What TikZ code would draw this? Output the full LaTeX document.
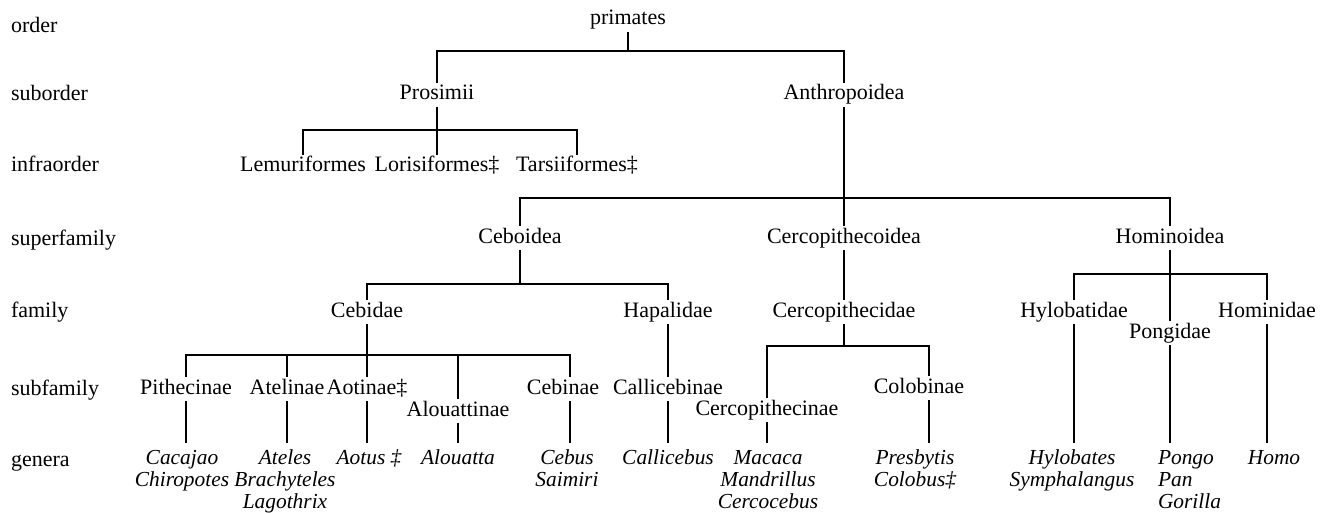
\documentclass[tikz,border=0pt]{standalone}
\usepackage{fontspec}
\setmainfont{Liberation Serif}
\newcommand\tbrk[3]{\draw[ln] (#1.south) |- (#3.north |- #2) -- (#3.north);}
\newcommand\tvln[2]{\draw[ln] (#1.south) -- (#1.south |- #2.north);}
\tikzset{
  lab/.style={font=\fontsize{11}{10.8}\selectfont, inner sep=0pt, outer sep=1pt, text height=7.5pt, text depth=2.5pt, anchor=base},
  rowlab/.style={lab, anchor=base west, outer sep=0pt},
  gen/.style={font=\fontsize{10.7}{11}\selectfont\itshape, inner sep=0pt, outer sep=3.5pt, align=center, anchor=north},
  ln/.style={line width=1.2pt}
}
\begin{document}
\begin{tikzpicture}[x=0.5pt,y=-0.5pt]
\useasboundingbox (0,0) rectangle (1326,513);
% row labels
\node[rowlab] (rOrder) at (11,33) {order};
\node[rowlab] (rSub) at (11,101) {suborder};
\node[rowlab] (rInfra) at (11,172) {infraorder};
\node[rowlab] (rSuper) at (11,245) {superfamily};
\node[rowlab] (rFam) at (11,317) {family};
\node[rowlab] (rSubf) at (11,395) {subfamily};
\node[rowlab] (rGen) at (11,466) {genera};
% bracket levels
\coordinate (b0) at (0,51);
\coordinate (b1) at (0,130);
\coordinate (b2) at (0,198);
\coordinate (b3) at (0,284);
\coordinate (b4) at (0,274);
\coordinate (b5) at (0,355);
\coordinate (b6) at (0,346);
\coordinate (cebx) at (570,355);
\coordinate (colx) at (929,346);
% taxa
\node[lab] (primates) at (628,25) {primates};
\node[lab] (prosimii) at (437,100) {Prosimii};
\node[lab] (anthro) at (844,100) {Anthropoidea};
\node[lab] (lemur) at (303,172) {Lemuriformes};
\node[lab] (loris) at (437,172) {Lorisiformes‡};
\node[lab] (tarsi) at (577,172) {Tarsiiformes‡};
\node[lab] (ceboid) at (520,243) {Ceboidea};
\node[lab] (cercoid) at (844,243) {Cercopithecoidea};
\node[lab] (homoid) at (1170,243) {Hominoidea};
\node[lab] (cebid) at (367,317) {Cebidae};
\node[lab] (hapal) at (668,317) {Hapalidae};
\node[lab] (cercid) at (844,317) {Cercopithecidae};
\node[lab] (hylob) at (1074,317) {Hylobatidae};
\node[lab] (homin) at (1267,317) {Hominidae};
\node[lab] (pongid) at (1170,338) {Pongidae};
\node[lab] (pithe) at (186,394) {Pithecinae};
\node[lab] (atel) at (287,394) {Atelinae};
\node[lab] (aot) at (367,394) {Aotinae‡};
\node[lab] (alou) at (458,416) {Alouattinae};
\node[lab] (cebin) at (563,394) {Cebinae};
\node[lab] (callic) at (668,394) {Callicebinae};
\node[lab] (cercin) at (767,415) {Cercopithecinae};
\node[lab] (colob) at (919,393) {Colobinae};
% genera
\node[gen] (cacajao) at (182,443) {Cacajao\\Chiropotes};
\node[gen] (ateles) at (285,443) {Ateles\\Brachyteles\\Lagothrix};
\node[gen] (aotus) at (369,443) {Aotus ‡};
\node[gen] (alouatta) at (458,443) {Alouatta};
\node[gen] (cebus) at (567,443) {Cebus\\Saimiri};
\node[gen] (callicebus) at (668,443) {Callicebus};
\node[gen] (macaca) at (768,443) {Macaca\\Mandrillus\\Cercocebus};
\node[gen] (presb) at (915,443) {Presbytis\\Colobus‡};
\node[gen] (hylobates) at (1072,443) {Hylobates\\Symphalangus};
\node[gen, anchor=north west, align=left] (pongo) at (1151,443) {Pongo\\Pan\\Gorilla};
\node[gen] (homo) at (1274,443) {Homo};
% connectors
\tbrk{primates}{b0}{prosimii}
\tbrk{primates}{b0}{anthro}
\tbrk{prosimii}{b1}{lemur}
\tvln{prosimii}{loris}
\tbrk{prosimii}{b1}{tarsi}
\tbrk{anthro}{b2}{ceboid}
\tvln{anthro}{cercoid}
\tbrk{anthro}{b2}{homoid}
\tbrk{ceboid}{b3}{cebid}
\tbrk{ceboid}{b3}{hapal}
\tvln{cercoid}{cercid}
\tbrk{homoid}{b4}{hylob}
\tvln{homoid}{pongid}
\tbrk{homoid}{b4}{homin}
\tbrk{cebid}{b5}{pithe}
\tbrk{cebid}{b5}{atel}
\tvln{cebid}{aot}
\tbrk{cebid}{b5}{alou}
\draw[ln] (cebid.south) |- (cebx) -- (cebx |- cebin.north);
\tvln{hapal}{callic}
\tbrk{cercid}{b6}{cercin}
\draw[ln] (cercid.south) |- (colx) -- (colx |- colob.north);
\tvln{pithe}{cacajao}
\tvln{atel}{ateles}
\tvln{aot}{aotus}
\tvln{alou}{alouatta}
\draw[ln] (cebx |- cebin.south) -- (cebx |- cebus.north);
\tvln{callic}{callicebus}
\tvln{cercin}{macaca}
\draw[ln] (colx |- colob.south) -- (colx |- presb.north);
\tvln{hylob}{hylobates}
\tvln{pongid}{pongo}
\tvln{homin}{homo}
\end{tikzpicture}
\end{document}
